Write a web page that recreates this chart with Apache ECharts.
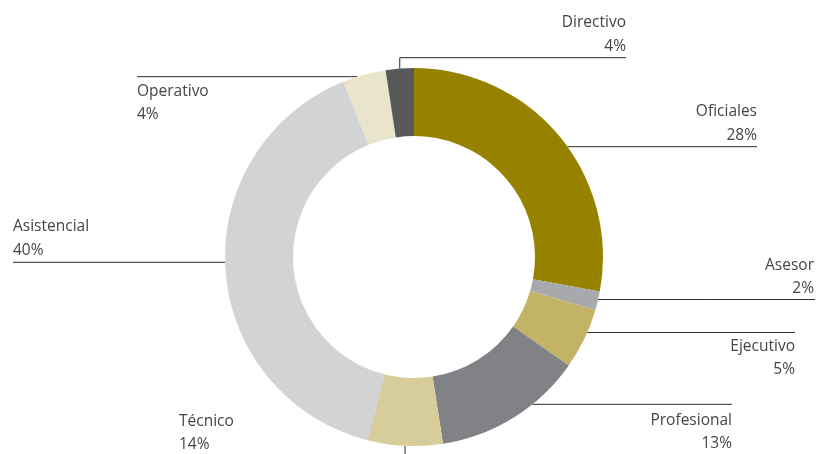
<!DOCTYPE html>
<html>
<head>
<meta charset="utf-8">
<script src="https://cdn.jsdelivr.net/npm/echarts@6/dist/echarts.min.js"></script>
<style>
  html, body { margin: 0; padding: 0; background: #ffffff; }
  #main { width: 817px; height: 454px; }
</style>
</head>
<body>
<div id="main"></div>
<script>
// categories, clockwise from 12 o'clock
var categories = ['Oficiales', 'Asesor', 'Ejecutivo', 'Profesional', 'Técnico', 'Asistencial', 'Operativo', 'Directivo']
// slice sizes as drawn (share of the ring, %)
var sliceValues = [27.9, 1.6, 5.2, 12.8, 6.4, 39.9, 3.7, 2.4]
// percentages as printed on the labels
var printedPct = [28, 2, 5, 13, 14, 40, 4, 4]
var colors = ['#978200', '#a7a9ac', '#c3b366', '#808285', '#d7cd9a', '#d1d3d4', '#e9e5cb', '#58595b']

var cx = 414
var cy = 257
var rOuter = 189
var rInner = 121

// label placement: text anchor (x, top y), alignment, and leader line
// kind 'h' = horizontal line at lineY from ring edge to endX
// kind 'vh' = vertical from slice to lineY then horizontal to endX
// kind 'v' = vertical down from slice
var labelPlace = [
  {x: 757, y: 100, align: 'right', kind: 'h', lineY: 146.7, endX: 757},
  {x: 814, y: 253.5, align: 'right', kind: 'h', lineY: 299.5, endX: 815},
  {x: 795, y: 334.5, align: 'right', kind: 'h', lineY: 332.5, endX: 795},
  {x: 732, y: 408.5, align: 'right', kind: 'h', lineY: 404.3, endX: 732},
  {x: 179, y: 409.5, align: 'left', kind: 'v', lineY: 470},
  {x: 13, y: 215, align: 'left', kind: 'h', lineY: 262.3, endX: 13},
  {x: 137, y: 79.5, align: 'left', kind: 'h', lineY: 76.7, endX: 137},
  {x: 626, y: 11, align: 'right', kind: 'vh', lineY: 57.7, endX: 626}
]

var pieData = categories.map(function (name, i) {
  return {name: name, value: sliceValues[i], itemStyle: {color: colors[i]}}
})

function ringX (y, side) {
  var d = Math.sqrt(Math.max(0, rOuter * rOuter - (y - cy) * (y - cy)))
  return side === 'right' ? cx + d : cx - d
}

var chart = echarts.init(document.getElementById('main'))
chart.setOption({
  animation: false,
  backgroundColor: '#ffffff',
  series: [{
    type: 'pie',
    center: [cx, cy],
    radius: [rInner, rOuter],
    startAngle: 90,
    clockwise: true,
    silent: true,
    data: pieData,
    label: {
      show: true,
      position: 'outer',
      color: '#454547',
      fontFamily: 'Open Sans',
      fontSize: 15.5,
      lineHeight: 23.5,
      formatter: function (p) {
        return p.name + '\n' + printedPct[p.dataIndex] + '%'
      }
    },
    labelLine: {
      show: true,
      smooth: false,
      length: 10,
      length2: 10,
      lineStyle: {color: '#2b2b2b', width: 1}
    },
    labelLayout: function (params) {
      var c = labelPlace[params.dataIndex]
      var pts
      var anchor = params.labelLinePoints ? params.labelLinePoints[0] : [cx, cy - rOuter]
      if (c.kind === 'h') {
        var side = c.endX > cx ? 'right' : 'left'
        pts = [[ringX(c.lineY, side), c.lineY], [(ringX(c.lineY, side) + c.endX) / 2, c.lineY], [c.endX, c.lineY]]
      } else if (c.kind === 'vh') {
        pts = [[anchor[0], anchor[1]], [anchor[0], c.lineY], [c.endX, c.lineY]]
      } else {
        pts = [[anchor[0], anchor[1]], [anchor[0], c.lineY], [anchor[0], c.lineY]]
      }
      return {
        x: c.x,
        y: c.y,
        align: c.align,
        verticalAlign: 'top',
        labelLinePoints: pts
      }
    }
  }]
})
</script>
</body>
</html>
